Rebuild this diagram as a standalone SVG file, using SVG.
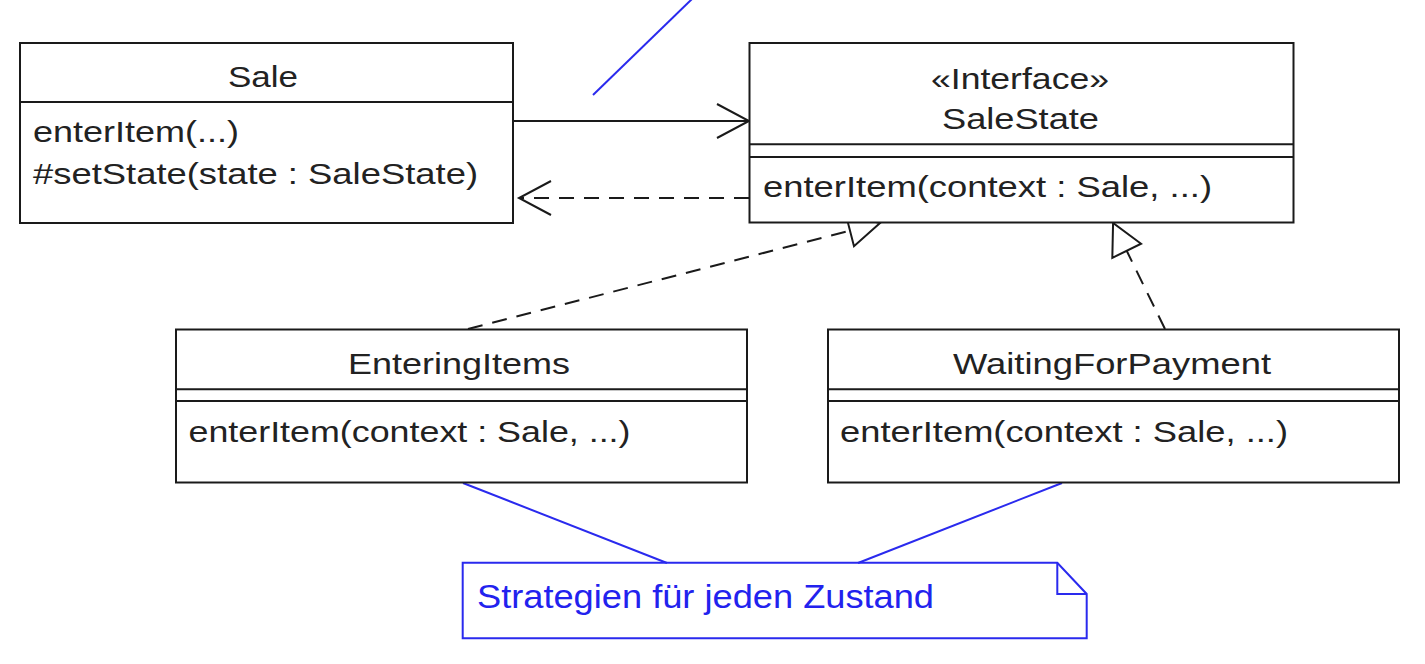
<svg xmlns="http://www.w3.org/2000/svg" width="1425" height="664" viewBox="0 0 1425 664">
<style>
.box{fill:#fff;stroke:#1a1a1a;stroke-width:2}
.sep{stroke:#1a1a1a;stroke-width:2}
.t{font-family:"Liberation Sans",Arial,sans-serif;font-size:30px;fill:#222}
.nt{font-family:"Liberation Sans",Arial,sans-serif;font-size:33px;fill:#2222ee}
.ln{fill:none;stroke:#1a1a1a;stroke-width:2}
.dash{stroke-dasharray:15 10}
.blue{fill:none;stroke:#2a2aee;stroke-width:2}
</style>
<defs>
<marker id="open" markerUnits="userSpaceOnUse" markerWidth="40" markerHeight="40" viewBox="-2 -20 38 40" refX="32" refY="0" orient="auto" overflow="visible">
<path d="M0,-17 L32,0 L0,17" fill="none" stroke="#1a1a1a" stroke-width="2"/>
</marker>
<marker id="tri" markerUnits="userSpaceOnUse" markerWidth="40" markerHeight="40" viewBox="-2 -20 38 40" refX="0" refY="0" orient="auto" overflow="visible">
<path d="M0,-16 L31,0 L0,16 Z" fill="#fff" stroke="#1a1a1a" stroke-width="2" stroke-linejoin="miter"/>
</marker>
</defs>
<rect width="1425" height="664" fill="#fff"/>

<g id="connectors">
<line class="blue" x1="593" y1="95" x2="692" y2="-1"/>
<line class="ln" x1="513" y1="121" x2="749" y2="121" marker-end="url(#open)"/>
<line class="ln dash" x1="749" y1="198" x2="519" y2="198" marker-end="url(#open)"/>
<line class="ln dash" x1="468" y1="329" x2="850" y2="230.7" marker-end="url(#tri)"/>
<line class="ln dash" x1="1165" y1="329" x2="1126.7" y2="250.8" marker-end="url(#tri)"/>
<line class="blue" x1="463" y1="483" x2="667" y2="563"/>
<line class="blue" x1="1062" y1="483" x2="858" y2="563"/>
</g>

<g id="Sale">
<rect class="box" x="20" y="43" width="493" height="180"/>
<line class="sep" x1="20" y1="102" x2="513" y2="102"/>
<text class="t" x="228" y="87" textLength="70" lengthAdjust="spacingAndGlyphs">Sale</text>
<text class="t" x="33" y="142" textLength="206" lengthAdjust="spacingAndGlyphs">enterItem(...)</text>
<text class="t" x="33" y="184" textLength="445" lengthAdjust="spacingAndGlyphs">#setState(state : SaleState)</text>
</g>

<g id="SaleState">
<rect class="box" x="749.5" y="43" width="544" height="179.5"/>
<line class="sep" x1="749.5" y1="144.3" x2="1293.5" y2="144.3"/>
<line class="sep" x1="749.5" y1="157" x2="1293.5" y2="157"/>
<text class="t" x="931" y="89" textLength="178" lengthAdjust="spacingAndGlyphs">«Interface»</text>
<text class="t" x="942" y="129" textLength="157" lengthAdjust="spacingAndGlyphs">SaleState</text>
<text class="t" x="763" y="197" textLength="449" lengthAdjust="spacingAndGlyphs">enterItem(context : Sale, ...)</text>
</g>

<g id="EnteringItems">
<rect class="box" x="176" y="329.5" width="571" height="153"/>
<line class="sep" x1="176" y1="389.3" x2="747" y2="389.3"/>
<line class="sep" x1="176" y1="401" x2="747" y2="401"/>
<text class="t" x="348" y="374" textLength="222" lengthAdjust="spacingAndGlyphs">EnteringItems</text>
<text class="t" x="188.5" y="442" textLength="442" lengthAdjust="spacingAndGlyphs">enterItem(context : Sale, ...)</text>
</g>

<g id="WaitingForPayment">
<rect class="box" x="828" y="329.5" width="571" height="153"/>
<line class="sep" x1="828" y1="389.3" x2="1399" y2="389.3"/>
<line class="sep" x1="828" y1="401" x2="1399" y2="401"/>
<text class="t" x="953" y="374" textLength="318" lengthAdjust="spacingAndGlyphs">WaitingForPayment</text>
<text class="t" x="840" y="442" textLength="448" lengthAdjust="spacingAndGlyphs">enterItem(context : Sale, ...)</text>
</g>

<g id="note">
<path class="blue" d="M462.7,562.7 L1057.3,562.7 L1086.7,594 L1086.7,638.3 L462.7,638.3 Z"/>
<path class="blue" d="M1057.3,562.7 L1057.3,594 L1086.7,594"/>
<text class="nt" x="477" y="608" textLength="457" lengthAdjust="spacingAndGlyphs">Strategien für jeden Zustand</text>
</g>
</svg>
